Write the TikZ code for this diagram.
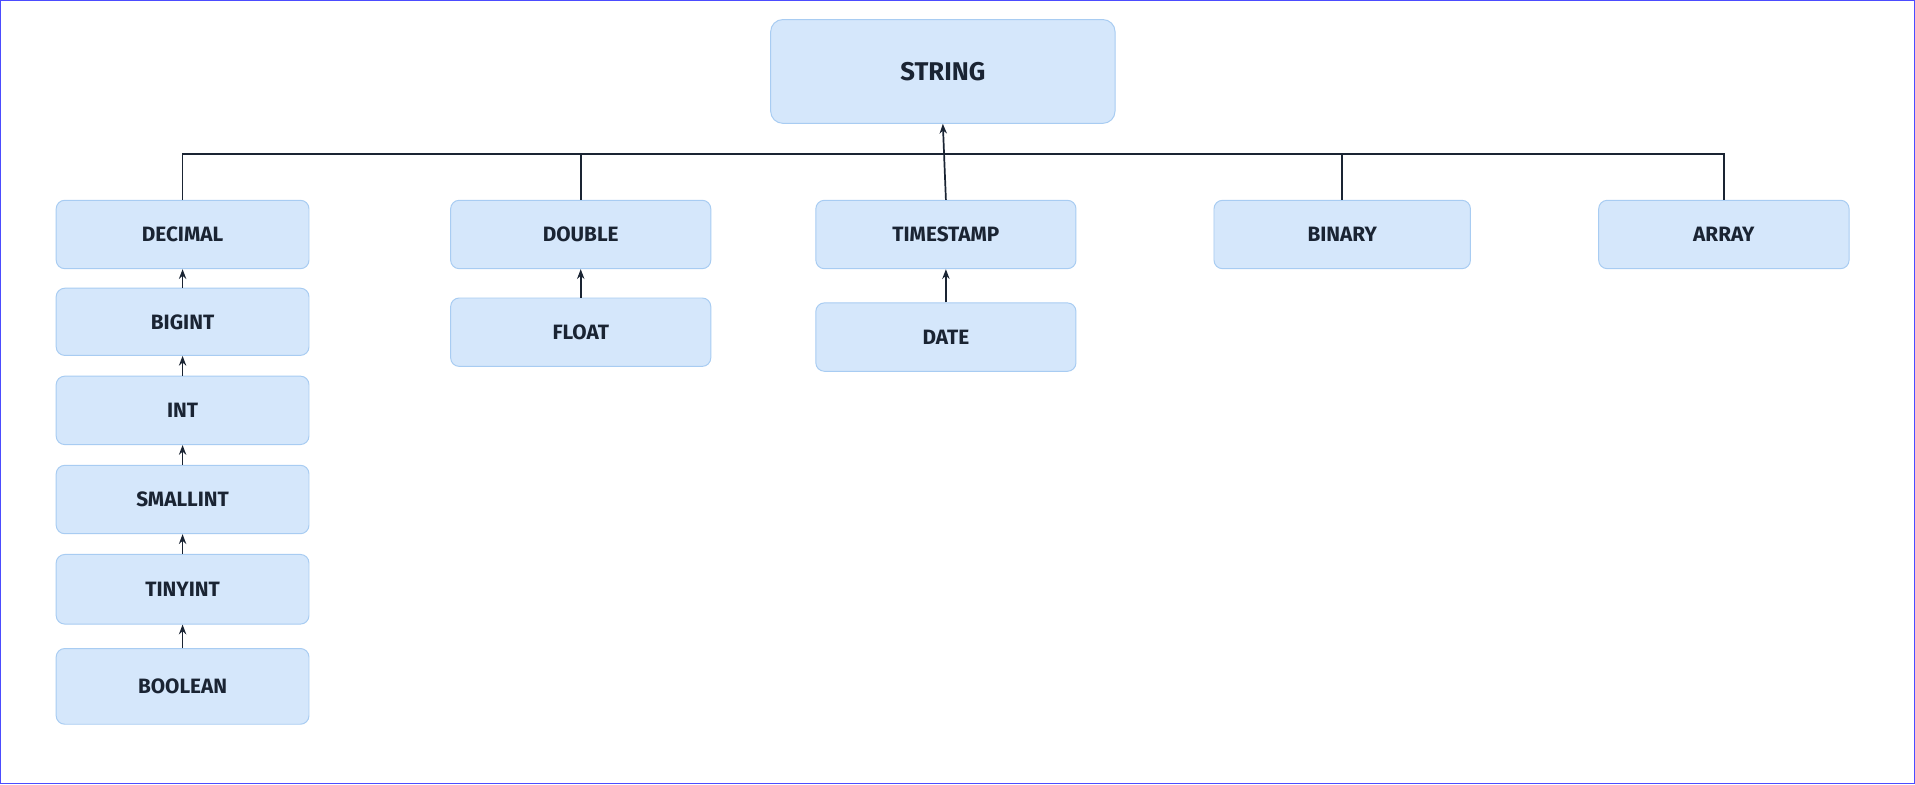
\documentclass[tikz,border=0pt]{standalone}
\usepackage{fontspec}
\setmainfont{Fira Sans}
\usetikzlibrary{arrows.meta}
\definecolor{boxfill}{HTML}{D5E7FB}
\definecolor{boxline}{HTML}{A8CCF2}
\definecolor{txt}{HTML}{1A2433}
\tikzset{
  box/.style={draw=boxline,fill=boxfill,rounded corners=7pt,line width=0.8pt,text=txt,font=\fontsize{17}{20}\selectfont\bfseries,inner sep=0pt},
  conn/.style={draw=txt,line width=1.4pt},
  arr/.style={conn,-{Stealth[length=8pt,width=6pt]}}
}
\newcommand{\bx}[6]{\node[box,minimum width=#4pt-#2pt,minimum height=#5pt-#3pt] (#1) at ({(#2+#4)/2*1pt},{-(#3+#5)/2*1pt}) {#6};}
\begin{document}
\begin{tikzpicture}[x=1pt,y=-1pt]
\fill[white] (0,0) rectangle (1568,642);
\draw[blue!70,line width=1pt] (0.5,0.5) rectangle (1567.5,641.5);
\node[box,minimum width=282pt,minimum height=85pt,font=\fontsize{21}{24}\selectfont\bfseries,rounded corners=10pt] (string) at (772,58.5) {STRING};
\bx{decimal}{46}{164}{253}{220}{DECIMAL}
\bx{bigint}{46}{236}{253}{291}{BIGINT}
\bx{int}{46}{308}{253}{364}{INT}
\bx{smallint}{46}{381}{253}{437}{SMALLINT}
\bx{tinyint}{46}{454}{253}{511}{TINYINT}
\bx{boolean}{46}{531}{253}{593}{BOOLEAN}
\bx{double}{369}{164}{582}{220}{DOUBLE}
\bx{float}{369}{244}{582}{300}{FLOAT}
\bx{timestamp}{668}{164}{881}{220}{TIMESTAMP}
\bx{date}{668}{248}{881}{304}{DATE}
\bx{binary}{994}{164}{1204}{220}{BINARY}
\bx{array}{1309}{164}{1514}{220}{ARRAY}
\coordinate (busL) at (decimal.north |- 0,126);
\coordinate (busR) at (array.north |- 0,126);
\draw[conn] (decimal.north) -- (busL) -- (busR) -- (array.north);
\draw[conn] (double.north) -- (double.north |- busL);
\draw[conn] (binary.north) -- (binary.north |- busL);
\draw[arr] (timestamp.north) -- (string.south);
\foreach \a/\b in {bigint/decimal,int/bigint,smallint/int,tinyint/smallint,boolean/tinyint,float/double,date/timestamp}
  \draw[arr] (\a.north) -- (\b.south);
\end{tikzpicture}
\end{document}
